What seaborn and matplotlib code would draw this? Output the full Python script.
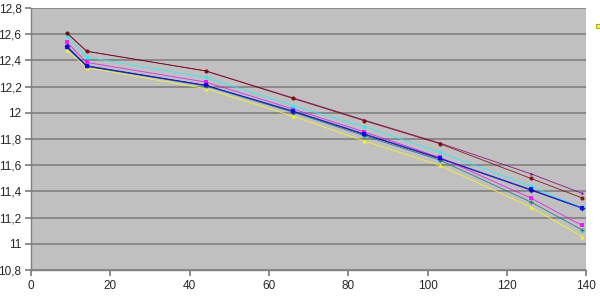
import matplotlib
matplotlib.use("Agg")
import matplotlib.pyplot as plt
import seaborn as sns
import pandas as pd
from matplotlib.ticker import FuncFormatter, MultipleLocator

x_values = [9, 14, 44, 66, 84, 103, 126, 139]
s_navy = [12.51, 12.36, 12.21, 12.01, 11.835, 11.65, 11.41, 11.27]
s_magenta = [12.54, 12.385, 12.235, 12.03, 11.855, 11.66, 11.35, 11.14]
s_yellow = [12.48, 12.345, 12.185, 11.975, 11.785, 11.60, 11.28, 11.055]
s_cyan = [12.59, 12.425, 12.27, 12.055, 11.895, 11.70, 11.44, 11.27]
s_purple = [12.61, 12.47, 12.32, 12.115, 11.945, 11.77, 11.535, 11.385]
s_maroon = [12.61, 12.47, 12.32, 12.11, 11.94, 11.765, 11.50, 11.35]
s_teal = [12.50, 12.355, 12.205, 12.005, 11.825, 11.64, 11.32, 11.105]
s_blue = [12.50, 12.355, 12.21, 12.015, 11.84, 11.655, 11.415, 11.275]

series = {
    "S1": s_navy, "S2": s_magenta, "S3": s_yellow, "S4": s_cyan,
    "S5": s_purple, "S6": s_maroon, "S7": s_teal, "S8": s_blue,
}
colors = {"S1": "#000080", "S2": "#FF00FF", "S3": "#FFFF00", "S4": "#00FFFF",
          "S5": "#800080", "S6": "#800000", "S7": "#008080", "S8": "#0000FF"}
markers = {"S1": "D", "S2": "s", "S3": "^", "S4": "X",
           "S5": "*", "S6": "o", "S7": "P", "S8": "s"}

rows = []
for name, vals in series.items():
    for xv, yv in zip(x_values, vals):
        rows.append({"x": xv, "y": yv, "series": name})
df = pd.DataFrame(rows)

sns.set_theme(style="white")
plt.rcParams['font.family'] = ['Liberation Sans', 'DejaVu Sans']

fig = plt.figure(figsize=(6.0, 2.98), dpi=100)
ax = fig.add_axes([0.052, 0.094, 0.925, 0.879])
ax.set_facecolor("#C0C0C0")

sns.lineplot(data=df, x="x", y="y", hue="series", style="series",
             palette=colors, markers=markers, dashes=False,
             linewidth=0.6, markersize=3, markeredgewidth=0, alpha=0.85,
             legend=False, ax=ax, sort=False)

ax.set_xlim(0, 140)
ax.set_ylim(10.8, 12.8)
ax.xaxis.set_major_locator(MultipleLocator(20))
ax.yaxis.set_major_locator(MultipleLocator(0.2))

def fmt(v, pos):
    s = ("%.1f" % v)
    if s.endswith(".0"):
        s = s[:-2]
    return s.replace(".", ",")
ax.yaxis.set_major_formatter(FuncFormatter(fmt))
ax.xaxis.set_major_formatter(FuncFormatter(lambda v, p: "%d" % v))

ax.grid(axis="y", color="#808080", linewidth=1.2)
ax.grid(axis="x", visible=False)
ax.set_axisbelow(True)
for side in ["top", "right"]:
    ax.spines[side].set_visible(False)
ax.spines["left"].set_color("#808080")
ax.spines["bottom"].set_color("#808080")
ax.spines["left"].set_linewidth(1.0)
ax.spines["bottom"].set_linewidth(1.0)
ax.tick_params(axis="both", which="major", labelsize=8.5, length=4,
               color="#808080", direction="out", pad=3, left=True, bottom=True)
ax.set_xlabel("")
ax.set_ylabel("")

# partial legend marker at the right edge (legend mostly off-canvas)
fig.patches.append(plt.Rectangle((0.994, 0.905), 0.01, 0.014, transform=fig.transFigure,
                                 facecolor="#FFFF00", edgecolor="#808000", linewidth=0.5))

fig.savefig("out.png", dpi=100)
